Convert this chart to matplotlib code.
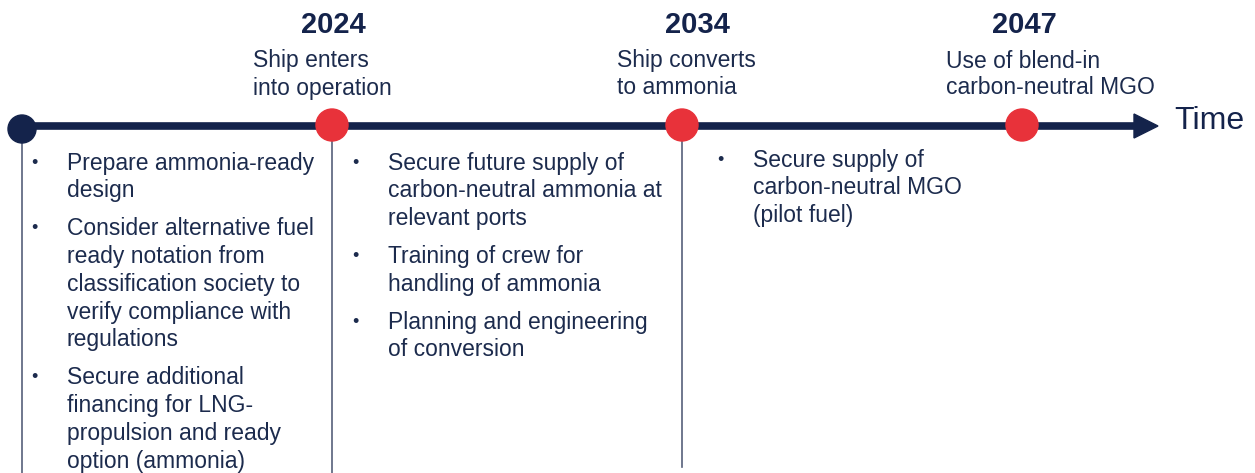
import matplotlib.pyplot as plt
from matplotlib.patches import Polygon, Circle

plt.rcParams['font.family'] = ['Liberation Sans', 'DejaVu Sans']

NAVY = '#14234b'
TEXT = '#1c2b4d'
RED = '#e8323a'
GREY = '#56607a'

# milestones
years = ['2024', '2034', '2047']
milestone_x = [332, 682, 1022]
year_x = [333, 697, 1024]
headlines = [['Ship enters', 'into operation'],
             ['Ship converts', 'to ammonia'],
             ['Use of blend-in', 'carbon-neutral MGO']]
headline_x = [253, 617, 946]

# bullet lists per phase
col_x = [34, 355, 720]
col_y0 = [163, 163, 160]
bullets = [
    [['Prepare ammonia-ready', 'design'],
     ['Consider alternative fuel', 'ready notation from', 'classification society to',
      'verify compliance with', 'regulations'],
     ['Secure additional', 'financing for LNG-', 'propulsion and ready', 'option (ammonia)']],
    [['Secure future supply of', 'carbon-neutral ammonia at', 'relevant ports'],
     ['Training of crew for', 'handling of ammonia'],
     ['Planning and engineering', 'of conversion']],
    [['Secure supply of', 'carbon-neutral MGO', '(pilot fuel)']],
]

W, H = 1255, 473
fig = plt.figure(figsize=(W / 100, H / 100), dpi=100)
ax = fig.add_axes([0, 0, 1, 1])
ax.set_xlim(0, W)
ax.set_ylim(H, 0)
ax.axis('off')

line_y = 126
start_x = 22

# divider lines
ax.plot([start_x, start_x], [line_y, H], color=GREY, lw=1.2, zorder=1)
ax.plot([332, 332], [line_y, H], color=GREY, lw=1.2, zorder=1)
ax.plot([682, 682], [line_y, 467], color=GREY, lw=1.2, zorder=1)

# timeline with arrow head
ax.plot([start_x, 1137], [line_y, line_y], color=NAVY, lw=5.5, solid_capstyle='butt', zorder=2)
ax.add_patch(Polygon([[1134, line_y - 12], [1158, line_y], [1134, line_y + 12]],
                     closed=True, color=NAVY, zorder=2))
ax.text(1174, line_y - 5, 'Time', fontsize=23, color=NAVY, va='center', ha='left')

ax.add_patch(Circle((start_x, line_y + 3), 14, color=NAVY, zorder=3))
for x, yx, yr, hl, hx in zip(milestone_x, year_x, years, headlines, headline_x):
    ax.add_patch(Circle((x, line_y - 1), 16, color=RED, zorder=3))
    ax.text(yx, 25, yr, fontsize=21, fontweight='bold', color=NAVY, ha='center', va='center')
    for i, s in enumerate(hl):
        ax.text(hx, 61 + i * 27, s, fontsize=16.5, color=TEXT, ha='left', va='center')

pitch = 27.8
gap = 10
for cx, y0, items in zip(col_x, col_y0, bullets):
    y = y0
    for item in items:
        ax.text(cx, y, '•', fontsize=13, color=TEXT, ha='center', va='center')
        for s in item:
            ax.text(cx + 33, y, s, fontsize=16.5, color=TEXT, ha='left', va='center')
            y += pitch
        y += gap

fig.savefig('out.png', dpi=100)
